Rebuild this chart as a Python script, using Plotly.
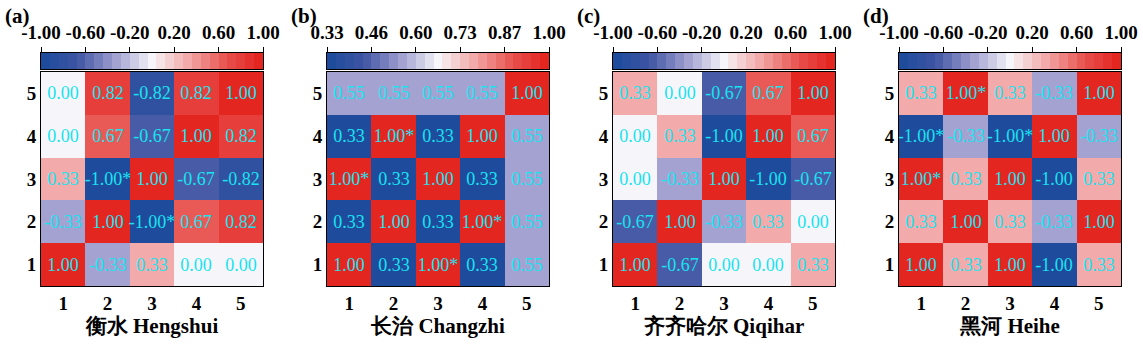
import numpy as np
import plotly.graph_objects as go

# ---------------- data ----------------
categories = [1, 2, 3, 4, 5]
panel_labels = ["(a)", "(b)", "(c)", "(d)"]
titles = ["衡水 Hengshui", "长治 Changzhi", "齐齐哈尔 Qiqihar", "黑河 Heihe"]

# rows are y = 1 (bottom) .. 5 (top); columns x = 1..5
hengshui = [
    [1.00, -0.33, 0.33, 0.00, 0.00],
    [-0.33, 1.00, -1.00, 0.67, 0.82],
    [0.33, -1.00, 1.00, -0.67, -0.82],
    [0.00, 0.67, -0.67, 1.00, 0.82],
    [0.00, 0.82, -0.82, 0.82, 1.00],
]
hengshui_star = [
    [0, 0, 0, 0, 0],
    [0, 0, 1, 0, 0],
    [0, 1, 0, 0, 0],
    [0, 0, 0, 0, 0],
    [0, 0, 0, 0, 0],
]
changzhi = [
    [1.00, 0.33, 1.00, 0.33, 0.55],
    [0.33, 1.00, 0.33, 1.00, 0.55],
    [1.00, 0.33, 1.00, 0.33, 0.55],
    [0.33, 1.00, 0.33, 1.00, 0.55],
    [0.55, 0.55, 0.55, 0.55, 1.00],
]
changzhi_star = [
    [0, 0, 1, 0, 0],
    [0, 0, 0, 1, 0],
    [1, 0, 0, 0, 0],
    [0, 1, 0, 0, 0],
    [0, 0, 0, 0, 0],
]
qiqihar = [
    [1.00, -0.67, 0.00, 0.00, 0.33],
    [-0.67, 1.00, -0.33, 0.33, 0.00],
    [0.00, -0.33, 1.00, -1.00, -0.67],
    [0.00, 0.33, -1.00, 1.00, 0.67],
    [0.33, 0.00, -0.67, 0.67, 1.00],
]
qiqihar_star = [[0] * 5 for _ in range(5)]
heihe = [
    [1.00, 0.33, 1.00, -1.00, 0.33],
    [0.33, 1.00, 0.33, -0.33, 1.00],
    [1.00, 0.33, 1.00, -1.00, 0.33],
    [-1.00, -0.33, -1.00, 1.00, -0.33],
    [0.33, 1.00, 0.33, -0.33, 1.00],
]
heihe_star = [
    [0, 0, 0, 0, 0],
    [0, 0, 0, 0, 0],
    [1, 0, 0, 0, 0],
    [1, 0, 1, 0, 0],
    [0, 1, 0, 0, 0],
]
zranges = [(-1.0, 1.0), (0.33, 1.0), (-1.0, 1.0), (-1.0, 1.0)]

values = [hengshui, changzhi, qiqihar, heihe]
stars = [hengshui_star, changzhi_star, qiqihar_star, heihe_star]

# ---------------- style ----------------
W, H = 1143, 346
NBINS = 25
anchors = [(0.0, (27, 74, 156)), (0.165, (62, 84, 163)), (0.335, (160, 159, 207)),
           (0.5, (246, 246, 250)), (0.665, (242, 168, 168)), (0.835, (232, 82, 78)),
           (1.0, (227, 32, 27))]


def cmap(t):
    for (t0, c0), (t1, c1) in zip(anchors[:-1], anchors[1:]):
        if t <= t1:
            f = (t - t0) / (t1 - t0)
            return "rgb(%d,%d,%d)" % tuple(round(a + (b - a) * f) for a, b in zip(c0, c1))
    return "rgb(%d,%d,%d)" % anchors[-1][1]


colorscale = []
for i in range(NBINS):
    c = cmap((i + 0.5) / NBINS)
    colorscale.append([i / NBINS, c])
    colorscale.append([(i + 1) / NBINS, c])

SERIF = "Liberation Serif"
TEXT_COLOR = "#19e3f0"

panel_left = [41, 327, 613, 899]
panel_w = 222
hm_top, hm_bot = 72, 286
cb_top, cb_bot = 53, 69


def px_x(x):
    return x / W


def px_y(y):
    return 1 - y / H


def bold(s):
    return "<b>%s</b>" % s


fig = go.Figure()
layout = {}
annotations = []

for k in range(4):
    zmin, zmax = zranges[k]
    z = np.array(values[k])
    txt = [[("%.2f" % z[r][c]) + ("*" if stars[k][r][c] else "") for c in range(5)] for r in range(5)]
    hx = "x%d" % (2 * k + 1)
    hy = "y%d" % (2 * k + 1)
    cx = "x%d" % (2 * k + 2)
    cy = "y%d" % (2 * k + 2)
    fig.add_trace(go.Heatmap(
        z=z, x=categories, y=categories, text=txt, texttemplate="%{text}",
        textfont=dict(family=SERIF, size=18, color=TEXT_COLOR),
        colorscale=colorscale, zmin=zmin, zmax=zmax, showscale=False,
        xaxis=hx, yaxis=hy, hoverinfo="skip"))
    edges = np.linspace(zmin, zmax, NBINS + 1)
    centers = (edges[:-1] + edges[1:]) / 2
    fig.add_trace(go.Heatmap(
        z=[centers], x=edges, y=[0, 1], colorscale=colorscale, zmin=zmin, zmax=zmax,
        showscale=False, xaxis=cx, yaxis=cy, hoverinfo="skip"))

    x0, x1 = px_x(panel_left[k]), px_x(panel_left[k] + panel_w)
    ax_common = dict(showline=True, linecolor="black", linewidth=1, mirror=True,
                     showgrid=False, zeroline=False, automargin=False, fixedrange=True)
    tickfont = dict(family=SERIF, size=19, color="black")
    cat_text = [bold(c) for c in categories]
    layout["xaxis%d" % (2 * k + 1)] = dict(
        domain=[x0, x1], anchor=hy, range=[0.5, 5.5], tickvals=categories, ticktext=cat_text,
        ticks="", ticklen=0, tickfont=tickfont,
        title=dict(text=bold(titles[k]), font=dict(family=SERIF, size=21, color="black"),
                   standoff=4), **ax_common)
    layout["yaxis%d" % (2 * k + 1)] = dict(
        domain=[px_y(hm_bot), px_y(hm_top)], anchor=hx, range=[0.5, 5.5], tickvals=categories,
        ticktext=cat_text, ticks="", ticklen=0, tickfont=tickfont, **ax_common)
    tv = np.linspace(zmin, zmax, 6)
    layout["xaxis%d" % (2 * k + 2)] = dict(
        domain=[x0, x1], anchor=cy, range=[zmin, zmax], side="top",
        tickvals=tv, ticktext=[bold("%.2f" % v) for v in tv], ticks="outside", ticklen=5,
        tickcolor="black", tickfont=tickfont, **ax_common)
    layout["yaxis%d" % (2 * k + 2)] = dict(
        domain=[px_y(cb_bot), px_y(cb_top)], anchor=cx, range=[0, 1],
        showticklabels=False, ticks="", **ax_common)
    annotations.append(dict(
        text=bold(panel_labels[k]), x=px_x(panel_left[k] - 38), y=px_y(2), xref="paper", yref="paper",
        xanchor="left", yanchor="top", showarrow=False,
        font=dict(family=SERIF, size=21, color="black")))

fig.update_layout(
    width=W, height=H, margin=dict(l=0, r=0, t=0, b=0),
    font=dict(family=SERIF, color="black"),
    paper_bgcolor="white", plot_bgcolor="white", showlegend=False,
    annotations=annotations, **layout)

fig.write_html("out.html", config={"displayModeBar": False})
